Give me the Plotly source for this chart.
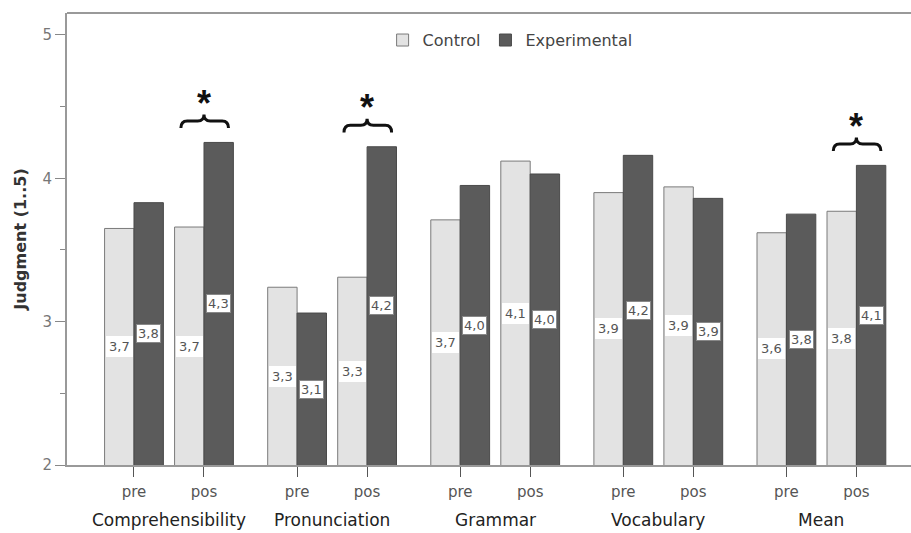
import plotly.graph_objects as go

categories = ["Comprehensibility", "Pronunciation", "Grammar", "Vocabulary", "Mean"]
phases = ["pre", "pos"]
control = [3.65, 3.66, 3.24, 3.31, 3.71, 4.12, 3.90, 3.94, 3.62, 3.77]
experimental = [3.83, 4.25, 3.06, 4.22, 3.95, 4.03, 4.16, 3.86, 3.75, 4.09]
control_labels = ["3,7", "3,7", "3,3", "3,3", "3,7", "4,1", "3,9", "3,9", "3,6", "3,8"]
exp_labels = ["3,8", "4,3", "3,1", "4,2", "4,0", "4,0", "4,2", "3,9", "3,8", "4,1"]
significant = [1, 3, 9]  # indices with asterisk

FONT = "DejaVu Sans"
PITCH = 2.33
xs = [ci * PITCH + pj for ci in range(len(categories)) for pj in range(len(phases))]
tick_text = [p for _ in categories for p in phases]
OFF = 0.21

fig = go.Figure()
fig.add_trace(go.Bar(x=xs, y=control, name="Control",
                     marker=dict(color="#e3e3e3", line=dict(color="#7a7a7a", width=1))))
fig.add_trace(go.Bar(x=xs, y=experimental, name="Experimental",
                     marker=dict(color="#5b5b5b", line=dict(color="#4a4a4a", width=1))))

ann = []
for i, x in enumerate(xs):
    ann.append(dict(x=x - OFF, y=(2 + control[i]) / 2, text=control_labels[i], showarrow=False,
                    font=dict(size=13, color="#555", family=FONT), bgcolor="white", borderpad=3,
                    bordercolor="white", borderwidth=0))
    ann.append(dict(x=x + OFF, y=(2 + experimental[i]) / 2, text=exp_labels[i], showarrow=False,
                    font=dict(size=13, color="#555", family=FONT), bgcolor="white", borderpad=1,
                    bordercolor="#888", borderwidth=1))

shapes = []
for i in significant:
    xc = xs[i]
    xl, xr = xc - 0.33, xc + 0.35
    yb = experimental[i] + 0.1
    ym = yb + 0.05
    yt = ym + 0.045
    q = 0.09
    path = (f"M {xl},{yb} Q {xl},{ym} {xl+q},{ym} L {xc-q},{ym} Q {xc},{ym} {xc},{yt} "
            f"Q {xc},{ym} {xc+q},{ym} L {xr-q},{ym} Q {xr},{ym} {xr},{yb}")
    shapes.append(dict(type="path", path=path, xref="x", yref="y", line=dict(color="#111", width=3)))
    ann.append(dict(x=xc, y=yt + 0.02, text="<b>*</b>", showarrow=False, yanchor="bottom",
                    font=dict(size=36, color="#111", family="Arial"), yshift=-14))

for ci, c in enumerate(categories):
    ann.append(dict(x=ci * PITCH + 0.5, y=-0.122, xref="x", yref="paper", text=c, showarrow=False,
                    yanchor="middle", font=dict(size=17, color="#222", family=FONT)))

fig.update_layout(
    width=911, height=533,
    margin=dict(l=67, r=0, t=13, b=68),
    plot_bgcolor="white", paper_bgcolor="white",
    barmode="group", bargap=0.16, bargroupgap=0,
    font=dict(family=FONT, color="#444"),
    showlegend=True,
    legend=dict(orientation="h", x=0.525, xanchor="center", y=0.94, yanchor="middle",
                font=dict(size=16, color="#444", family=FONT), itemwidth=30, bgcolor="rgba(0,0,0,0)"),
    annotations=ann, shapes=shapes,
    xaxis=dict(range=[-0.957, 11.1], tickmode="array", tickvals=xs, ticktext=tick_text, automargin=False,
               showline=True, linecolor="#999", linewidth=2, ticks="outside", ticklen=10, tickcolor="#555",
               tickwidth=1, showgrid=False, zeroline=False, tickfont=dict(size=15, color="#555"),
               ticklabelstandoff=2),
    yaxis=dict(range=[2, 5.153], tickvals=[2, 3, 4, 5], showline=True, linecolor="#999", linewidth=2,
               automargin=False,
               ticks="outside", ticklen=10, tickcolor="#888", showgrid=False, zeroline=False,
               tickfont=dict(size=15, color="#777"),
               minor=dict(tickvals=[2.5, 3.5, 4.5], ticks="outside", ticklen=5, tickcolor="#888"),
               title=dict(text="<b>Judgment (1..5)</b>", font=dict(size=16, color="#333"), standoff=12)),
)
fig.add_shape(type="line", xref="paper", yref="paper", x0=0, x1=1, y0=1, y1=1, line=dict(color="#999", width=2))

fig.write_html("out.html", config={"displayModeBar": False},
               post_script="document.body.style.margin='0px';document.body.style.overflow='hidden';")
